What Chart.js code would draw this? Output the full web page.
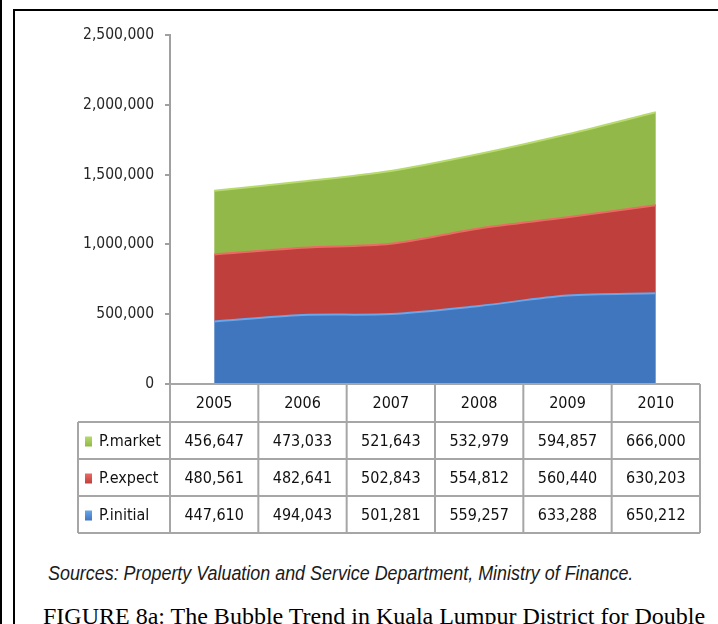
<!DOCTYPE html>
<html>
<head>
<meta charset="utf-8">
<script src="https://cdn.jsdelivr.net/npm/chart.js@4.4.1/dist/chart.umd.min.js"></script>
<style>
  html, body { margin: 0; padding: 0; background: #fff; }
  body { width: 718px; height: 624px; position: relative; overflow: hidden; }
  #edge { position: absolute; left: 0; top: 0; width: 2px; height: 624px; background: #000; }
  #frame { position: absolute; left: 13px; top: 9px; width: 720px; height: 640px; border-left: 2px solid #000; border-top: 2px solid #000; }
  #chart { position: absolute; left: 0; top: 0; }
  #source { position: absolute; left: 48px; top: 562px; font: italic 20px 'Liberation Sans Narrow', 'Liberation Sans', sans-serif; color: #1a1a1a; white-space: nowrap; transform: scaleX(0.895); transform-origin: 0 0; }
  #caption { position: absolute; left: 43px; top: 603px; font: 24px 'Liberation Serif', serif; color: #000; white-space: nowrap; }
</style>
</head>
<body>
<div id="edge"></div>
<div id="frame"></div>
<canvas id="chart" width="718" height="545"></canvas>
<div id="source">Sources: Property Valuation and Service Department, Ministry of Finance.</div>
<div id="caption">FIGURE 8a: The Bubble Trend in Kuala Lumpur District for Double</div>

<script>
// ── Data ──
const years     = ['2005', '2006', '2007', '2008', '2009', '2010']
const pInitial  = [447610, 494043, 501281, 559257, 633288, 650212]
const pExpect   = [480561, 482641, 502843, 554812, 560440, 630203]
const pMarket   = [456647, 473033, 521643, 532979, 594857, 666000]
const yTicks    = [0, 500000, 1000000, 1500000, 2000000, 2500000]

const FONT = "'DejaVu Sans Condensed', 'DejaVu Sans', sans-serif"
const fmt  = v => Number(v).toLocaleString('en-US')

// ── Data table under the plot, laid out on the x scale ──
const dataTable = {
  id: 'dataTable',
  afterDraw(chart) {
    const { ctx, chartArea } = chart
    const x = chart.scales.x
    const half = (x.getPixelForValue(1) - x.getPixelForValue(0)) / 2
    const left  = x.getPixelForValue(0) - half
    const right = x.getPixelForValue(years.length - 1) + half
    const top   = chartArea.bottom
    const headH = 38, rowH = 37, labelLeft = 78
    const rows  = chart.data.datasets.slice().reverse()
    const bottom = top + headH + rowH * rows.length

    ctx.save()
    ctx.strokeStyle = '#a6a6a6'
    ctx.lineWidth = 2

    // horizontal lines
    ctx.beginPath()
    ctx.moveTo(left, top); ctx.lineTo(right, top)
    for (let r = 0; r <= rows.length; r++) {
      const y = top + headH + r * rowH
      ctx.moveTo(labelLeft, y); ctx.lineTo(right, y)
    }
    // vertical lines
    ctx.moveTo(labelLeft, top + headH); ctx.lineTo(labelLeft, bottom)
    for (let i = 0; i <= years.length; i++) {
      const xx = left + i * half * 2
      ctx.moveTo(xx, top); ctx.lineTo(xx, bottom)
    }
    ctx.stroke()

    ctx.font = '16px ' + FONT
    ctx.textBaseline = 'middle'
    ctx.fillStyle = '#111'
    ctx.textAlign = 'center'
    years.forEach((yr, i) => ctx.fillText(yr, x.getPixelForValue(i), top + headH / 2 + 1))

    rows.forEach((ds, r) => {
      const cy = top + headH + r * rowH + rowH / 2 + 1
      ctx.textAlign = 'center'
      ctx.fillStyle = '#111'
      ds.data.forEach((v, i) => ctx.fillText(fmt(v), x.getPixelForValue(i), cy))
      // legend key
      const g = ctx.createLinearGradient(0, cy - 5, 0, cy + 5)
      g.addColorStop(0, ds.borderColor)
      g.addColorStop(1, ds.backgroundColor)
      ctx.fillStyle = g
      ctx.fillRect(85, cy - 5, 7, 10)
      ctx.fillStyle = '#111'
      ctx.textAlign = 'left'
      ctx.fillText(ds.label, 99, cy)
    })
    ctx.restore()
  }
}

new Chart(document.getElementById('chart'), {
  type: 'line',
  data: {
    labels: years,
    datasets: [
      { label: 'P.initial', data: pInitial, backgroundColor: '#4076be', borderColor: '#6aa6ea', borderWidth: 2, fill: 'origin' },
      { label: 'P.expect',  data: pExpect,  backgroundColor: '#be3f3b', borderColor: '#ec6a64', borderWidth: 2, fill: '-1' },
      { label: 'P.market',  data: pMarket,  backgroundColor: '#92b849', borderColor: '#b6da6c', borderWidth: 2, fill: '-1' },
    ]
  },
  options: {
    responsive: false,
    animation: false,
    layout: { padding: { left: 0, right: 18, top: 35, bottom: 161 } },
    plugins: { legend: { display: false }, tooltip: { enabled: false } },
    elements: { point: { radius: 0 }, line: { tension: 0.3 } },
    scales: {
      x: { type: 'category', display: false, offset: true },
      y: {
        stacked: true,
        min: yTicks[0],
        max: yTicks[yTicks.length - 1],
        afterBuildTicks: s => { s.ticks = yTicks.map(v => ({ value: v })) },
        afterFit: s => { s.width = 170 },
        ticks: { padding: 11, color: '#262626', font: { family: FONT, size: 15.5 }, callback: v => fmt(v) },
        grid: { drawOnChartArea: false, drawTicks: true, tickLength: 5, color: '#a0a0a0', lineWidth: 2 },
        border: { color: '#a0a0a0', width: 2 }
      }
    }
  },
  plugins: [dataTable]
})
</script>
</body>
</html>
